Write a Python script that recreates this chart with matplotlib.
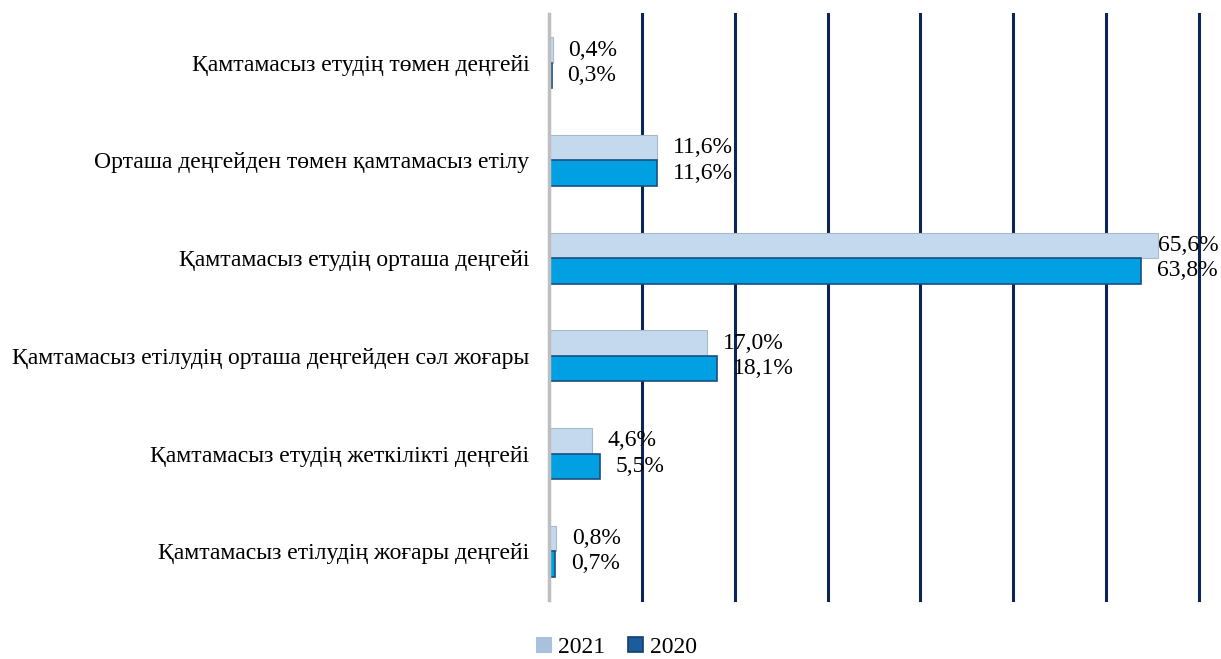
import numpy as np
import matplotlib.pyplot as plt

categories = [
    "Қамтамасыз етудің төмен деңгейі",
    "Орташа деңгейден төмен қамтамасыз етілу",
    "Қамтамасыз етудің орташа деңгейі",
    "Қамтамасыз етілудің орташа деңгейден сәл жоғары",
    "Қамтамасыз етудің жеткілікті деңгейі",
    "Қамтамасыз етілудің жоғары деңгейі",
]
vals_2021 = [0.4, 11.6, 65.6, 17.0, 4.6, 0.8]
vals_2020 = [0.3, 11.6, 63.8, 18.1, 5.5, 0.7]

plt.rcParams["font.family"] = ["Liberation Serif", "DejaVu Serif"]

fig = plt.figure(figsize=(12.21, 6.59), dpi=100)
ax = fig.add_axes([0.4496, 0.0895, 0.5324, 0.8893])

y = np.arange(len(categories))
h = 0.26

ax.barh(y - h / 2, vals_2021, height=h, color="#c4d8ee", edgecolor="#a9b9cc",
        linewidth=0.8, label="2021", zorder=3)
ax.barh(y + h / 2, vals_2020, height=h, color="#00a0e3", edgecolor="#1c4f80",
        linewidth=1.2, label="2020", zorder=3)


def fmt(v):
    return f"{v:.1f}%".replace(".", ",")


# labels sit just right of the bar, but not past the chart edge
def label_x(v):
    return min(v + 1.7, 65.6)


for i in range(len(categories)):
    ax.text(label_x(vals_2021[i]), y[i] - h / 2, fmt(vals_2021[i]), va="center",
            ha="left", fontsize=17, zorder=4, clip_on=False)
    ax.text(label_x(vals_2020[i]), y[i] + h / 2, fmt(vals_2020[i]), va="center",
            ha="left", fontsize=17, zorder=4, clip_on=False)

ax.set_xlim(0, 70)
ax.set_ylim(len(categories) - 0.5, -0.5)
ax.set_xticks(np.arange(10, 71, 10))
ax.xaxis.grid(True, color="#0b2557", linewidth=2.2)
for gl in ax.get_xgridlines():
    gl.set_clip_on(False)
ax.set_axisbelow(True)
ax.tick_params(axis="x", length=0, labelbottom=False)
ax.set_yticks(y)
ax.set_yticklabels(categories, fontsize=17)
ax.tick_params(axis="y", length=0, pad=14)

for s in ["top", "right", "bottom"]:
    ax.spines[s].set_visible(False)
ax.spines["left"].set_color("#bfbfbf")
ax.spines["left"].set_linewidth(2.5)
ax.spines["left"].set_zorder(5)

handles, labels = ax.get_legend_handles_labels()
leg = fig.legend(handles, labels, loc="center", bbox_to_anchor=(0.505, 0.017),
                 ncol=2, frameon=False, fontsize=17, handlelength=0.6,
                 handleheight=0.6, handletextpad=0.3, columnspacing=1.0)
# legend squares are a bit darker than the bars in the original
leg.legend_handles[0].set_facecolor("#a9c1dc")
leg.legend_handles[0].set_edgecolor("#a9c1dc")
leg.legend_handles[1].set_facecolor("#1a5c9c")
leg.legend_handles[1].set_edgecolor("#123f6e")

fig.savefig("out.png", dpi=100)
